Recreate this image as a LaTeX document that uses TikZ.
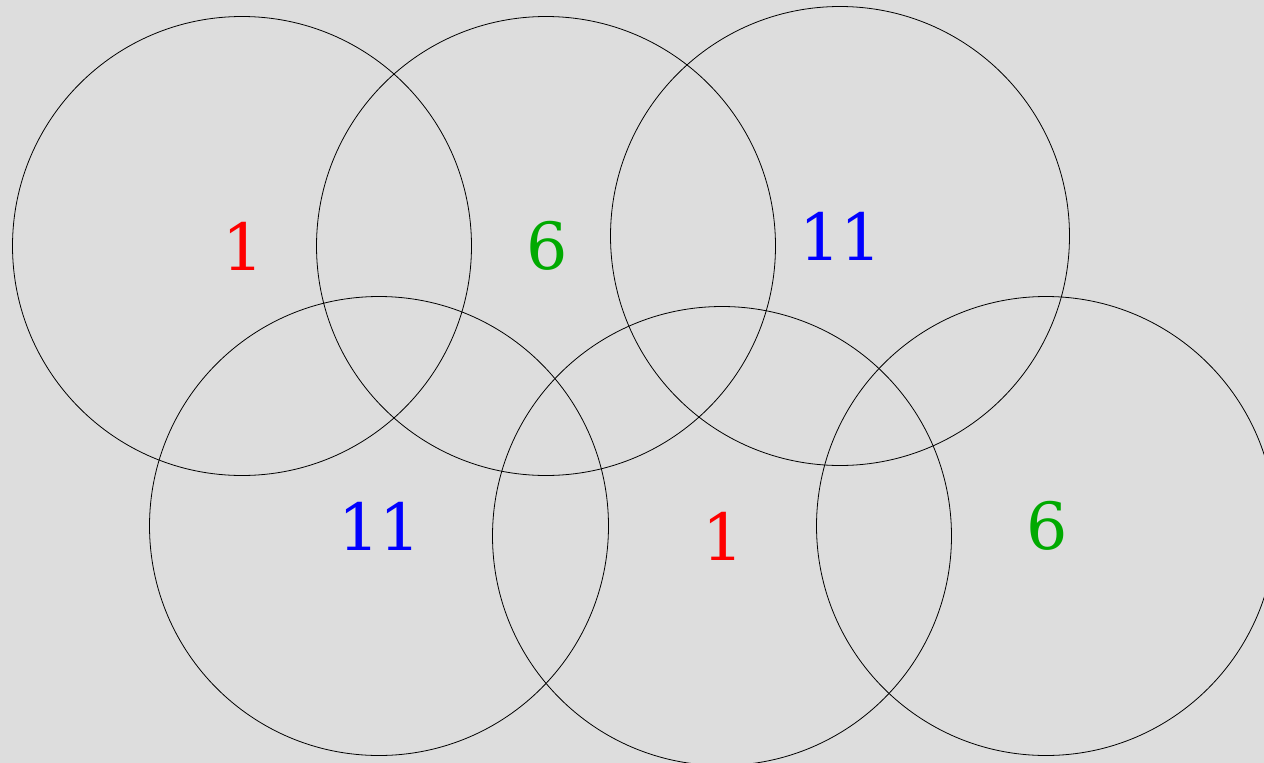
\documentclass[tikz,border=0pt]{standalone}
\usepackage{fontspec}
\setmainfont{DejaVu Serif}
\definecolor{bg}{RGB}{221,221,221}
\definecolor{cr}{RGB}{255,0,0}
\definecolor{cg}{RGB}{0,170,0}
\definecolor{cb}{RGB}{0,0,255}
\begin{document}
\begin{tikzpicture}[x=1pt,y=-1pt,
  ring/.style={draw=black,line width=0.8pt},
  num/.style={inner sep=0pt,font=\fontsize{65}{65}\selectfont}]
\fill[bg] (0,0) rectangle (1264,763);
\useasboundingbox (0,0) rectangle (1264,763);
\begin{scope}
\clip (0,0) rectangle (1264,763);
\draw[ring] (242,246) circle (229.5);
\draw[ring] (546,246) circle (229.5);
\draw[ring] (840,236) circle (229.5);
\draw[ring] (379,526) circle (229.5);
\draw[ring] (722,536) circle (229.5);
\draw[ring] (1046,526) circle (229.5);
\end{scope}
\node[num,text=cr] (a) at (243,246) {1};
\node[num,text=cg] (b) at (547,246) {6};
\node[num,text=cb] (c) at (841,236) {11};
\node[num,text=cb] (d) at (380,526) {11};
\node[num,text=cr] (e) at (723,536) {1};
\node[num,text=cg] (f) at (1047,526) {6};
\end{tikzpicture}
\end{document}
